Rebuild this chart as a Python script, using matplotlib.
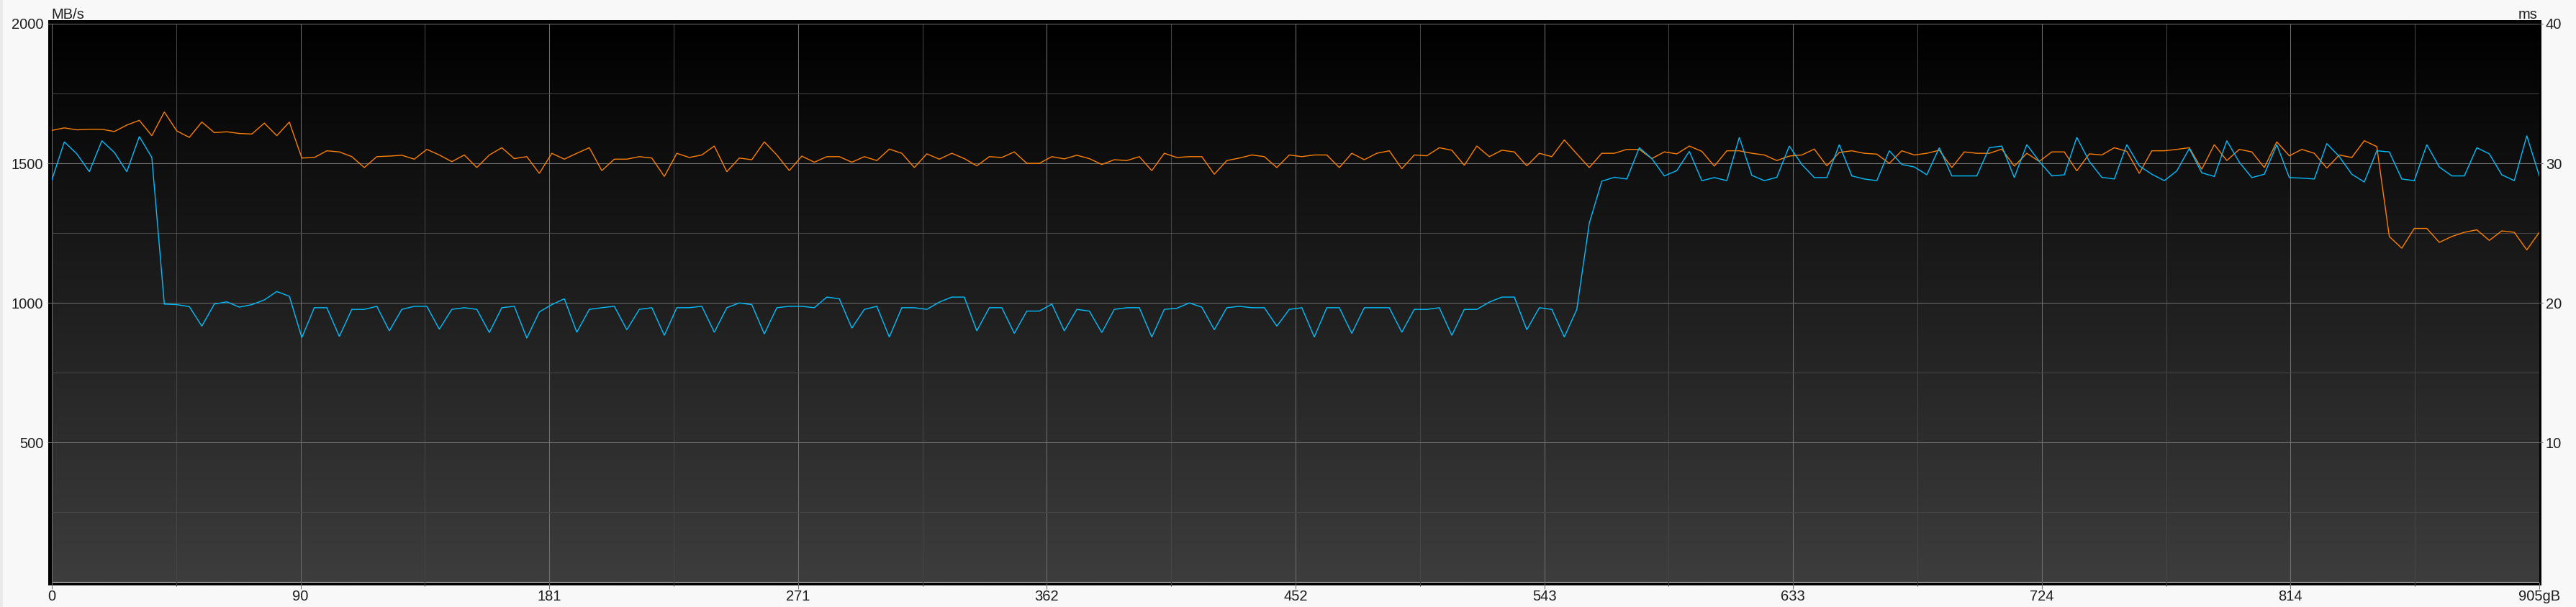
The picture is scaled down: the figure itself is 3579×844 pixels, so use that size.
import numpy as np
import matplotlib
matplotlib.use("Agg")
import matplotlib.pyplot as plt
from matplotlib.colors import LinearSegmentedColormap
from matplotlib.patches import Rectangle

plt.rcParams['font.family'] = ['Liberation Sans', 'DejaVu Sans']

# ---------------- data ----------------
capacity_gb = 905
x_tick_values = [0, 90.5, 181, 271.5, 362, 452.5, 543, 633.5, 724, 814.5, 905]
x_tick_labels = ["0", "90", "181", "271", "362", "452", "543", "633", "724", "814", "905gB"]
left_tick_values = [500, 1000, 1500, 2000]
left_tick_labels = ["500", "1000", "1500", "2000"]
right_tick_values = [10, 20, 30, 40]
right_tick_labels = ["10", "20", "30", "40"]

blue_mbs = [
    1440, 1577, 1534, 1470, 1581, 1539, 1470, 1596, 1521, 996, 994, 987, 917, 996, 1004, 985, 994, 1011, 1041, 1024,
    876, 983, 983, 880, 977, 977, 988, 900, 977, 988, 988, 906, 977, 983,
    977, 894, 983, 988, 874, 968, 994, 1015, 895, 977, 983, 988, 904, 977, 983, 884, 983, 983, 988, 895,
    983, 1000, 994, 889, 983, 988, 988, 983, 1021, 1015, 910, 977, 988,
    878, 983, 983, 977, 1003, 1021, 1021, 900, 983, 983, 891, 971, 971, 996, 900, 977, 971, 894, 977, 983,
    983, 878, 977, 981, 1000, 985, 904, 983, 988, 983, 983, 917, 977,
    983, 878, 983, 983, 891, 983, 983, 983, 895, 977, 977, 983, 884, 977, 977, 1003, 1021, 1021, 904, 983,
    977, 878, 977, 1286, 1436, 1450, 1444, 1556, 1517, 1455, 1474, 1543, 1438, 1449,
    1438, 1593, 1457, 1438, 1450, 1562, 1496, 1449, 1449, 1567, 1455, 1444, 1438, 1545, 1496, 1487, 1459,
    1556, 1455, 1455, 1455, 1556, 1562, 1449, 1567, 1507, 1455, 1459, 1593, 1507, 1450, 1444, 1567,
    1491, 1461, 1438, 1473, 1553, 1466, 1453, 1581, 1504, 1449, 1461, 1567, 1449, 1447, 1444, 1571, 1524,
    1461, 1433, 1545, 1541, 1444, 1438, 1567, 1487, 1455, 1455, 1556, 1534, 1459, 1438, 1599, 1455,
]

orange_mbs = [
    1618, 1627, 1620, 1622, 1622, 1614, 1637, 1654, 1599, 1684, 1616, 1593, 1648, 1610, 1613, 1607, 1605, 1644,
    1599, 1648, 1519, 1521, 1545, 1541, 1524, 1485, 1524, 1526, 1529, 1515, 1550, 1530, 1506, 1530,
    1485, 1530, 1556, 1517, 1524, 1464, 1536, 1515, 1536, 1556, 1474, 1515, 1515, 1524, 1519, 1453, 1536,
    1521, 1530, 1562, 1470, 1519, 1513, 1577, 1530, 1474, 1526, 1504, 1524, 1524, 1504, 1524, 1510,
    1551, 1536, 1485, 1534, 1515, 1536, 1517, 1491, 1524, 1521, 1541, 1500, 1500, 1524, 1516, 1529, 1517,
    1496, 1513, 1510, 1524, 1474, 1536, 1521, 1524, 1524, 1461, 1510, 1519, 1530, 1524, 1485, 1530,
    1524, 1530, 1530, 1485, 1536, 1513, 1536, 1545, 1481, 1530, 1527, 1556, 1547, 1493, 1562, 1524, 1547,
    1541, 1491, 1536, 1524, 1584, 1534, 1485, 1536, 1536, 1550, 1550, 1517, 1541, 1534, 1562, 1543, 1490,
    1545, 1545, 1536, 1530, 1510, 1526, 1530, 1551, 1491, 1539, 1545, 1536, 1533, 1500, 1545, 1530, 1536,
    1547, 1485, 1541, 1536, 1536, 1551, 1490, 1536, 1507, 1541, 1541, 1473, 1534, 1530, 1556, 1543,
    1464, 1545, 1545, 1550, 1556, 1479, 1567, 1510, 1550, 1541, 1485, 1577, 1527, 1550, 1536, 1483, 1530,
    1521, 1581, 1560, 1238, 1196, 1267, 1267, 1217, 1238, 1253, 1262, 1224, 1258, 1253, 1190, 1253,
]

position_gb = np.linspace(0, capacity_gb, len(blue_mbs))

# ---------------- figure ----------------
W, H = 3580, 844
fig = plt.figure(figsize=(W / 100, H / 100), dpi=100, facecolor='#f8f8f8')

# thin strip at the left window edge
fig.add_artist(Rectangle((0, 0), 4 / W, 1, transform=fig.transFigure,
                         facecolor='#e9e9e9', edgecolor='none', zorder=-2))
# black frame around plot area
fig.add_artist(Rectangle((67 / W, 30 / H), 3464 / W, 786 / H, transform=fig.transFigure,
                         facecolor='black', edgecolor='none', zorder=-1))

ax = fig.add_axes([72 / W, 1 - 809.5 / H, 3456 / W, 776.5 / H])
ax.set_zorder(1)

bg_cmap = LinearSegmentedColormap.from_list('bg', ['#3d3d3d', '#000000'])
grad = np.linspace(0, 1, 512).reshape(-1, 1)
ax.imshow(grad, extent=[0, capacity_gb, 0, 2000], origin='lower', aspect='auto',
          cmap=bg_cmap, interpolation='bilinear', zorder=0)
ax.set_xlim(0, capacity_gb)
ax.set_ylim(0, 2000)

minor_x = [(a + b) / 2 for a, b in zip(x_tick_values[:-1], x_tick_values[1:])]
ax.set_xticks(x_tick_values)
ax.set_xticklabels(x_tick_labels)
ax.set_xticks(minor_x, minor=True)
ax.set_yticks(left_tick_values)
ax.set_yticklabels(left_tick_labels)
ax.set_yticks([250, 750, 1250, 1750], minor=True)

ax.set_axisbelow('line')
ax.grid(which='major', color='#707070', linewidth=0.75)
ax.grid(which='minor', color='#464646', linewidth=0.75)

for s in ax.spines.values():
    s.set_visible(False)

txt_color = '#1e1e1e'
fs = 14.5
ax.tick_params(axis='x', which='major', length=6.5, width=0.75, color='#707070',
               labelsize=fs, labelcolor=txt_color, pad=0.8)
ax.tick_params(axis='x', which='minor', length=3.6, width=0.75, color='#464646')
ax.tick_params(axis='y', which='major', length=4.3, width=0.75, color='#707070',
               labelsize=fs, labelcolor=txt_color, pad=4.0)
ax.tick_params(axis='y', which='minor', length=0)

ax.plot(position_gb, orange_mbs, color='#ff8000', linewidth=1.0, zorder=3, solid_joinstyle='miter')
ax.plot(position_gb, blue_mbs, color='#00bfff', linewidth=1.0, zorder=4, solid_joinstyle='miter')

ax2 = ax.twinx()
ax2.set_ylim(0, 40)
ax2.set_yticks(right_tick_values)
ax2.set_yticklabels(right_tick_labels)
ax2.tick_params(axis='y', which='major', length=3.6, width=0.75, color='#707070',
                labelsize=fs, labelcolor=txt_color, pad=2.8)
for s in ax2.spines.values():
    s.set_visible(False)
ax2.patch.set_visible(False)

fig.text(71 / W, 1 - 26 / H, 'MB/s', ha='left', va='baseline', fontsize=fs, color=txt_color)
fig.text(3526 / W, 1 - 26 / H, 'ms', ha='right', va='baseline', fontsize=fs, color=txt_color)

fig.savefig('out.png', dpi=100, facecolor=fig.get_facecolor())
